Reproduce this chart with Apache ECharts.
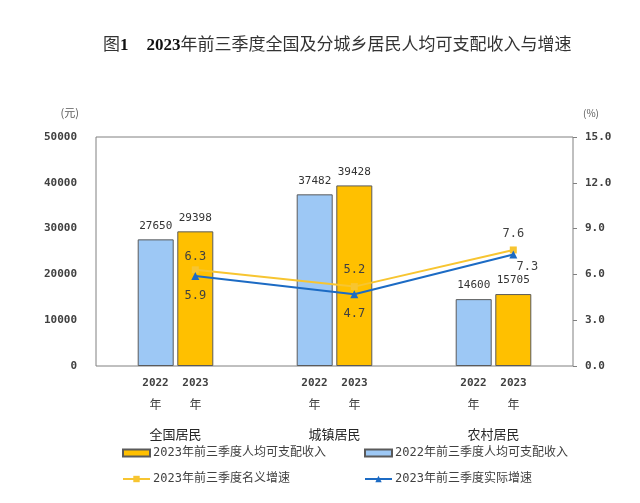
<!DOCTYPE html>
<html>
<head>
<meta charset="utf-8">
<script src="https://cdn.jsdelivr.net/npm/echarts@6/dist/echarts.min.js"></script>
<style>html,body{margin:0;padding:0;background:#fff;}#c{width:640px;height:503px;}</style>
</head>
<body>
<div id="c"></div>
<script>
const categories = ['全国居民', '城镇居民', '农村居民'];
const yearLabels = ['2022', '2023'];
const income2022 = [27650, 37482, 14600];
const income2023 = [29398, 39428, 15705];
const nominalGrowth = [6.3, 5.2, 7.6];
const realGrowth = [5.9, 4.7, 7.3];
const seriesNames = ['2023年前三季度人均可支配收入', '2022年前三季度人均可支配收入', '2023年前三季度名义增速', '2023年前三季度实际增速'];
const leftAxis = { min: 0, max: 50000, interval: 10000, unit: '(元)' };
const rightAxis = { min: 0, max: 15, interval: 3, unit: '(%)' };

const MONO = "'DejaVu Sans Mono', 'Noto Sans CJK SC', monospace";
const CJK = "'Noto Sans CJK SC', sans-serif";
const grid = { left: 96, right: 67, top: 137, bottom: 137 };
const barW = 36, gapRatio = 0.1;
const catW = (640 - grid.left - grid.right) / categories.length;
const off = (barW + barW * gapRatio) / 2 / catW;

const chart = echarts.init(document.getElementById('c'), null, { renderer: 'canvas' });

const nominalData = nominalGrowth.map((v, i) => {
  const item = { value: [i + 0.5 + off, v] };
  if (i === 0) item.label = { offset: [0, 4] };
  return item;
});
const realData = realGrowth.map((v, i) => {
  const item = { value: [i + 0.5 + off, v] };
  if (i === 2) item.label = { position: 'bottom', offset: [14, -8] };
  return item;
});

chart.setOption({
  animation: false,
  backgroundColor: '#fff',
  title: {
    left: 98, top: 32,
    text: '{n|图}{b|1}{s| }{b|2023}{n|年前三季度全国及分城乡居民人均可支配收入与增速}',
    textStyle: {
      fontWeight: 'normal',
      rich: {
        n: { fontFamily: "'Liberation Serif', 'Noto Sans CJK SC', serif", fontSize: 17, fontWeight: 'normal', color: '#333' },
        b: { fontFamily: "'Liberation Serif', serif", fontSize: 17, fontWeight: 'bold', color: '#111' },
        s: { width: 18 }
      }
    }
  },
  legend: [
    { data: [seriesNames[0]], left: 122, top: 447 },
    { data: [seriesNames[1]], left: 364, top: 447 },
    { data: [seriesNames[2]], left: 122, top: 473 },
    { data: [seriesNames[3]], left: 364, top: 473 }
  ].map((l, i) => Object.assign({
    padding: 0, itemWidth: 27, itemHeight: i < 2 ? 7 : 8, itemGap: 3,
    icon: i < 2 ? 'rect' : undefined,
    textStyle: { fontFamily: MONO, fontSize: 12, color: '#404040', padding: [0, 0, 0, -2] }
  }, l)),
  grid: Object.assign({ show: true, borderColor: '#808080', borderWidth: 1, backgroundColor: 'transparent' }, grid),
  xAxis: [
    {
      type: 'category', data: categories,
      axisLine: { show: false }, axisTick: { show: false }, splitLine: { show: false },
      axisLabel: {
        margin: 7,
        formatter: function (v) {
          return '{a|' + yearLabels[0] + '}{s|}{a|' + yearLabels[1] + '}\n{y|年}{s|}{y|年}\n{g|' + v + '}';
        },
        rich: {
          a: { width: 36, align: 'center', fontFamily: MONO, fontSize: 11, fontWeight: 'bold', color: '#404040', lineHeight: 21 },
          y: { width: 36, align: 'center', fontFamily: CJK, fontSize: 12, color: '#404040', lineHeight: 21 },
          s: { width: 4 },
          g: { fontFamily: CJK, fontSize: 13, color: '#262626', lineHeight: 39 }
        }
      }
    },
    { type: 'value', min: 0, max: categories.length, show: false }
  ],
  yAxis: [
    {
      type: 'value', min: leftAxis.min, max: leftAxis.max, interval: leftAxis.interval,
      name: leftAxis.unit, nameLocation: 'end', nameGap: 24,
      nameTextStyle: { fontFamily: CJK, fontSize: 11, color: '#595959', align: 'right', verticalAlign: 'middle', padding: [0, 17, 0, 0] },
      axisLine: { show: false }, axisTick: { show: false }, splitLine: { show: false },
      axisLabel: { margin: 19, fontFamily: MONO, fontSize: 11, fontWeight: 'bold', color: '#404040', formatter: v => String(v) }
    },
    {
      type: 'value', min: rightAxis.min, max: rightAxis.max, interval: rightAxis.interval, position: 'right',
      name: rightAxis.unit, nameLocation: 'end', nameGap: 24,
      nameTextStyle: { fontFamily: CJK, fontSize: 10, color: '#595959', align: 'left', verticalAlign: 'middle', padding: [0, 0, 0, 10] },
      axisLine: { show: false }, axisTick: { show: true, length: 4, inside: false, lineStyle: { color: '#808080' } },
      splitLine: { show: false },
      axisLabel: { margin: 12, fontFamily: MONO, fontSize: 11, fontWeight: 'bold', color: '#404040', formatter: v => v.toFixed(1) }
    }
  ],
  series: [
    {
      name: seriesNames[1], type: 'bar', data: income2022, barWidth: barW, barGap: (gapRatio * 100) + '%',
      itemStyle: { color: '#9DC8F5', borderColor: '#5a5a5a', borderWidth: 1 },
      label: { show: true, position: 'top', distance: 8, fontFamily: MONO, fontSize: 11, color: '#333' }
    },
    {
      name: seriesNames[0], type: 'bar', data: income2023, barWidth: barW,
      itemStyle: { color: '#FFC000', borderColor: '#5a5a5a', borderWidth: 1 },
      label: { show: true, position: 'top', distance: 8, fontFamily: MONO, fontSize: 11, color: '#333' }
    },
    {
      name: seriesNames[2], type: 'line', xAxisIndex: 1, yAxisIndex: 1, data: nominalData,
      symbol: 'rect', symbolSize: 7, z: 5,
      lineStyle: { color: '#F7C531', width: 2 }, itemStyle: { color: '#F7C531' },
      label: { show: true, position: 'top', distance: 7, fontFamily: MONO, fontSize: 12, color: '#404040', formatter: p => p.value[1].toFixed(1) }
    },
    {
      name: seriesNames[3], type: 'line', xAxisIndex: 1, yAxisIndex: 1, data: realData,
      symbol: 'triangle', symbolSize: 8, z: 6,
      lineStyle: { color: '#1C6BC4', width: 2 }, itemStyle: { color: '#1C6BC4' },
      label: { show: true, position: 'bottom', distance: 10, fontFamily: MONO, fontSize: 12, color: '#404040', formatter: p => p.value[1].toFixed(1) }
    }
  ]
});
</script>
</body>
</html>
